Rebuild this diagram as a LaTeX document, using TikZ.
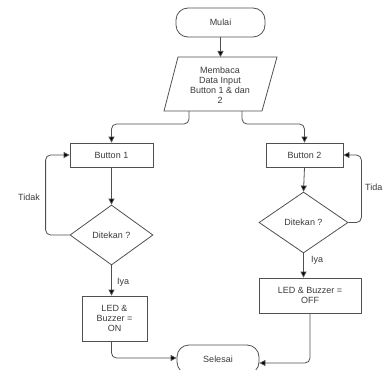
\documentclass[tikz,border=0pt]{standalone}
\usepackage{fontspec}
\setmainfont{Liberation Sans}
\usetikzlibrary{arrows.meta,shapes.geometric}
\definecolor{linec}{HTML}{505050}
\definecolor{textc}{HTML}{3A3A3A}
\begin{document}
\begin{tikzpicture}[x=1pt,y=-1pt,
  font=\fontsize{9}{10}\selectfont, text=textc,
  box/.style={draw=linec, line width=0.8pt, inner sep=0pt, align=center},
  term/.style={box, rounded corners=12pt},
  dec/.style={box, diamond},
  conn/.style={draw=linec, line width=0.8pt, rounded corners=5pt},
  arr/.style={conn, -{Triangle[length=6pt,width=6pt,fill=black]}},
  lbl/.style={inner sep=0pt, font=\fontsize{9}{10}\selectfont}]
\clip (0,0) rectangle (385,369);
\useasboundingbox (0,0) rectangle (385,369);

% nodes
\node[term, minimum width=89pt, minimum height=29pt] (start) at (220.5,22.5) {Mulai};
\draw[draw=linec, line width=0.8pt] (178,57) -- (277,57) -- (262,111) -- (164,111) -- cycle;
\node[align=center, inner sep=0pt] (read) at (220,85) {Membaca\\Data Input\\Button 1 \& dan\\2};
\coordinate (readT) at (220.5,57);
\coordinate (readL) at (189,111);
\coordinate (readR) at (242,111);

\node[box, minimum width=83pt, minimum height=24pt] (b1) at (111.5,155) {Button 1};
\node[box, minimum width=77pt, minimum height=24pt] (b2) at (304.5,155) {Button 2};
\node[dec, minimum width=83pt, minimum height=60pt] (d1) at (111.5,235) {Ditekan ?};
\node[dec, minimum width=89pt, minimum height=61pt] (d2) at (303.5,222.5) {Ditekan ?};
\node[box, minimum width=65pt, minimum height=45pt] (led1) at (114.5,318.5) {LED \&\\Buzzer =\\ON};
\node[box, minimum width=102pt, minimum height=35pt] (led2) at (310,295.5) {LED \& Buzzer =\\OFF};
\node[term, minimum width=82pt, minimum height=29pt] (stop) at (218,359.5) {Selesai};

% connectors
\draw[arr] (start.south) -- (readT);
\draw[arr] (readL) -- ++(0,13) -| (b1.north);
\draw[arr] (readR) -- ++(0,13) -| (b2.north);
\draw[arr] (b1.south) -- (d1.north);
\draw[arr] (b2.south) -- (d2.north);
\draw[arr] (d1.west) -- ++(-24,0) |- (b1.west);
\draw[arr] (d2.east) -- ++(13,0) |- (b2.east);
\draw[arr] (d1.south) -- (d1.south |- led1.north);
\draw[arr] (d2.south) -- (d2.south |- led2.north);
\draw[arr] (led1.south -| d1.south) |- ([yshift=1.5pt]stop.west);
\draw[arr] (led2.south) |- ([yshift=-3.5pt]stop.east);

% labels
\node[lbl] (tidak1) at (29,197) {Tidak};
\node[lbl, anchor=west] (tidak2) at (365,187) {Tida};
\node[lbl, anchor=west] (iya1) at (117,282) {Iya};
\node[lbl, anchor=west] (iya2) at (311,260) {Iya};
\end{tikzpicture}
\end{document}
